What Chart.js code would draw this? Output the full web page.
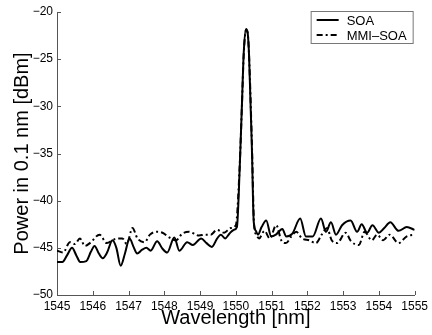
<!DOCTYPE html>
<html>
<head>
<meta charset="utf-8">
<script src="https://cdn.jsdelivr.net/npm/chart.js@4/dist/chart.umd.min.js"></script>
<style>
  html, body { margin: 0; padding: 0; background: #fff; }
  #wrap { width: 432px; height: 335px; }
</style>
</head>
<body>
<div id="wrap"><canvas id="spectrum"></canvas></div>
<script>
// series labels
const seriesNames = ['SOA', 'MMI\u2013SOA'];

// SOA: wavelength [nm] and power [dBm]
const soaWave = [
  1545.00, 1545.15, 1545.28, 1545.42, 1545.54, 1545.65, 1545.82, 1545.95, 1546.05, 1546.17,
  1546.28, 1546.40, 1546.55, 1546.66, 1546.78, 1546.90, 1547.03, 1547.14, 1547.24, 1547.38,
  1547.50, 1547.62, 1547.80, 1547.95, 1548.08, 1548.28, 1548.42, 1548.64, 1548.80, 1549.03,
  1549.18, 1549.33, 1549.48, 1549.58, 1549.70, 1549.82, 1549.94, 1550.03, 1550.11, 1550.175,
  1550.22, 1550.285, 1550.33, 1550.37, 1550.45, 1550.50, 1550.56, 1550.62, 1550.72, 1550.85,
  1550.99, 1551.12, 1551.30, 1551.41, 1551.58, 1551.80, 1551.96, 1552.15, 1552.38, 1552.52,
  1552.66, 1552.80, 1552.97, 1553.21, 1553.39, 1553.52, 1553.67, 1553.82, 1554.00, 1554.15,
  1554.32, 1554.55, 1554.78, 1555.00
];
const soaPower = [
  -46.5, -46.5, -45.8, -45.0, -45.8, -46.5, -46.4, -45.4, -44.8, -45.6,
  -46.1, -45.5, -44.2, -45.0, -46.9, -45.6, -44.0, -44.9, -45.6, -45.2,
  -45.0, -45.3, -44.3, -45.1, -45.5, -43.9, -45.3, -44.4, -44.7, -44.0,
  -44.5, -44.9, -44.0, -43.6, -44.0, -43.5, -43.1, -42.8, -36.4, -29.3,
  -24.4, -21.8, -22.2, -24.6, -34.6, -42.2, -43.2, -43.6, -42.8, -42.1,
  -43.8, -43.6, -43.0, -43.8, -43.5, -41.9, -43.8, -43.8, -41.9, -43.3,
  -42.3, -43.6, -42.6, -42.1, -43.3, -42.5, -43.4, -42.6, -43.4, -42.9,
  -42.3, -43.2, -42.8, -43.1
];

// MMI-SOA: wavelength [nm] and power [dBm]
const mmiWave = [
  1545.00, 1545.17, 1545.36, 1545.50, 1545.64, 1545.78, 1545.92, 1546.19, 1546.39, 1546.60,
  1546.83, 1546.95, 1547.11, 1547.25, 1547.45, 1547.60, 1547.78, 1547.95, 1548.14, 1548.33,
  1548.50, 1548.69, 1548.97, 1549.15, 1549.30, 1549.47, 1549.67, 1549.86, 1550.00, 1550.10,
  1550.17, 1550.22, 1550.285, 1550.33, 1550.37, 1550.45, 1550.51, 1550.57, 1550.65, 1550.80,
  1550.95, 1551.13, 1551.27, 1551.40, 1551.55, 1551.69, 1551.85, 1552.05, 1552.24, 1552.40,
  1552.55, 1552.68, 1552.83, 1553.07, 1553.22, 1553.44, 1553.60, 1553.80, 1553.95, 1554.12,
  1554.30, 1554.55, 1554.77, 1555.00
];
const mmiPower = [
  -45.3, -45.5, -44.4, -44.6, -44.0, -44.8, -44.5, -43.6, -44.5, -44.1,
  -44.0, -44.6, -42.9, -44.0, -44.4, -43.6, -43.3, -43.4, -43.9, -44.2,
  -43.5, -43.3, -43.7, -43.6, -43.6, -43.1, -43.4, -42.9, -42.6, -37.0,
  -30.0, -24.6, -21.9, -22.2, -24.6, -34.0, -42.5, -43.6, -44.0, -43.2,
  -44.0, -42.6, -44.2, -44.5, -43.8, -43.3, -44.0, -44.2, -44.5, -43.6,
  -42.9, -44.2, -44.5, -43.4, -44.3, -44.7, -43.3, -44.2, -43.6, -44.2,
  -43.6, -44.5, -43.8, -43.6
];

// axis ranges / ticks
const xMin = 1545, xMax = 1555, xStep = 1;
const yMin = -50, yMax = -20, yStep = 5;

const FONT = "'Liberation Sans', Arial, Helvetica, sans-serif";
const AXIS_COLOR = '#555';

function toPoints(xs, ys) {
  return xs.map((x, i) => ({ x: x, y: ys[i] }));
}

// inward tick marks on left and bottom axes
const innerTicks = {
  id: 'innerTicks',
  afterDraw(chart) {
    const ctx = chart.ctx;
    const area = chart.chartArea;
    const xs = chart.scales.x, ys = chart.scales.y;
    ctx.save();
    ctx.strokeStyle = AXIS_COLOR;
    ctx.lineWidth = 1;
    ctx.beginPath();
    xs.ticks.forEach(t => {
      const px = Math.round(xs.getPixelForValue(t.value)) + 0.5;
      ctx.moveTo(px, area.bottom);
      ctx.lineTo(px, area.bottom - 4);
    });
    ys.ticks.forEach(t => {
      const py = Math.round(ys.getPixelForValue(t.value)) + 0.5;
      ctx.moveTo(area.left, py);
      ctx.lineTo(area.left + 4, py);
    });
    ctx.stroke();
    ctx.restore();
  }
};

// boxed legend in the upper right corner
const boxLegend = {
  id: 'boxLegend',
  afterDraw(chart) {
    const ctx = chart.ctx;
    const area = chart.chartArea;
    const w = 102, h = 32;
    const x0 = area.right - w - 2, y0 = area.top - 1;
    ctx.save();
    ctx.fillStyle = '#fff';
    ctx.fillRect(x0, y0, w, h);
    ctx.strokeStyle = '#777';
    ctx.lineWidth = 1;
    ctx.strokeRect(x0 + 0.5, y0 + 0.5, w, h);
    ctx.font = '13px ' + FONT;
    ctx.textBaseline = 'middle';
    ctx.fillStyle = '#000';
    chart.data.datasets.forEach((ds, i) => {
      const cy = y0 + 9 + i * 15;
      ctx.strokeStyle = ds.borderColor;
      ctx.lineWidth = ds.borderWidth;
      ctx.setLineDash(ds.borderDash || []);
      ctx.beginPath();
      ctx.moveTo(x0 + 6, cy);
      ctx.lineTo(x0 + 28, cy);
      ctx.stroke();
      ctx.setLineDash([]);
      ctx.fillText(ds.label, x0 + 36, cy + 1);
    });
    ctx.restore();
  }
};

new Chart(document.getElementById('spectrum'), {
  type: 'line',
  data: {
    datasets: [
      {
        label: seriesNames[0],
        data: toPoints(soaWave, soaPower),
        borderColor: '#000',
        borderWidth: 2,
        pointRadius: 0,
        cubicInterpolationMode: 'monotone',
        fill: false
      },
      {
        label: seriesNames[1],
        data: toPoints(mmiWave, mmiPower),
        borderColor: '#000',
        borderWidth: 2,
        borderDash: [6, 3, 2, 3],
        pointRadius: 0,
        cubicInterpolationMode: 'monotone',
        fill: false
      }
    ]
  },
  options: {
    responsive: true,
    maintainAspectRatio: false,
    animation: false,
    layout: { padding: { top: 12, right: 15, left: 0, bottom: 0 } },
    plugins: {
      legend: { display: false },
      tooltip: { enabled: false }
    },
    scales: {
      x: {
        type: 'linear',
        min: xMin,
        max: xMax,
        afterFit: s => { s.height = 40; },
        grid: { drawOnChartArea: false, drawTicks: false },
        border: { display: true, color: AXIS_COLOR, width: 1 },
        ticks: {
          stepSize: xStep,
          padding: 4,
          color: '#000',
          font: { family: FONT, size: 12 },
          maxRotation: 0,
          autoSkip: false,
          callback: v => String(v)
        },
        title: {
          display: true,
          text: 'Wavelength [nm]',
          color: '#000',
          font: { family: FONT, size: 20 },
          padding: { top: 0, bottom: 5 }
        }
      },
      y: {
        type: 'linear',
        min: yMin,
        max: yMax,
        afterFit: s => { s.width = 57; },
        grid: { drawOnChartArea: false, drawTicks: false },
        border: { display: true, color: AXIS_COLOR, width: 1 },
        ticks: {
          stepSize: yStep,
          padding: 4,
          color: '#000',
          font: { family: FONT, size: 12 },
          callback: v => String(v).replace('-', '\u2212')
        },
        title: {
          display: true,
          text: 'Power in 0.1 nm [dBm]',
          color: '#000',
          font: { family: FONT, size: 20 },
          padding: { top: 10, bottom: 0 }
        }
      }
    }
  },
  plugins: [innerTicks, boxLegend]
});
</script>
</body>
</html>
